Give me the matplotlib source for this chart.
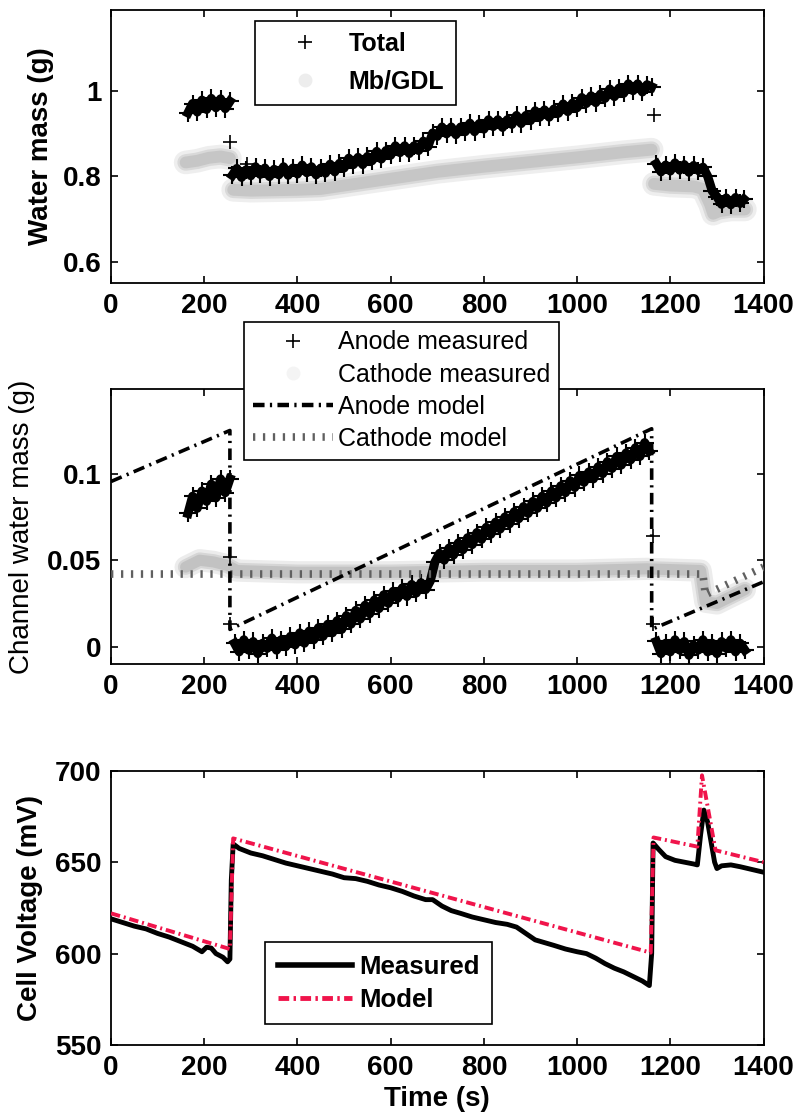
import numpy as np
import matplotlib
matplotlib.use("Agg")
import matplotlib.pyplot as plt
from matplotlib.lines import Line2D

plt.rcParams['font.family'] = ['Liberation Sans', 'DejaVu Sans']
plt.rcParams['axes.linewidth'] = 1.3

nan = np.nan

# ---------------- Panel 1: water mass ----------------
total_t = [165, 175, 185, 195, 205, 215, 225, 235, 245, 255, nan,
           260, 270, 280, 290, 300, 310, 320, 330, 340, 350, 360, 370, 380, 390, 400,
           410, 420, 430, 440, 450, 460, 470, 480, 490, 500, 510, 520, 530, 540, 550,
           560, 570, 580, 590, 600, 610, 620, 630, 640, 650, 660, 670, 680, 690, 700,
           710, 720, 730, 740, 750, 760, 770, 780, 790, 800, 810, 820, 830, 840, 850,
           860, 870, 880, 890, 900, 910, 920, 930, 940, 950, 960, 970, 980, 990, 1000,
           1010, 1020, 1030, 1040, 1050, 1060, 1070, 1080, 1090, 1100, 1110, 1120, 1130,
           1140, 1150, 1160, nan,
           1170, 1180, 1190, 1200, 1210, 1220, 1230, 1240, 1250, 1260, 1270, 1280, 1290,
           1300, 1310, 1320, 1330, 1340, 1350, 1358]
total_g = [0.948, 0.970, 0.950, 0.978, 0.956, 0.982, 0.960, 0.981, 0.958, 0.975, nan,
           0.802, 0.818, 0.797, 0.815, 0.801, 0.822, 0.804, 0.819, 0.799, 0.816, 0.803,
           0.822, 0.802, 0.819, 0.805, 0.826, 0.808, 0.822, 0.803, 0.819, 0.807, 0.828,
           0.810, 0.830, 0.819, 0.842, 0.827, 0.844, 0.827, 0.846, 0.836, 0.858, 0.840,
           0.860, 0.849, 0.871, 0.855, 0.871, 0.853, 0.871, 0.860, 0.882, 0.869, 0.901,
           0.893, 0.915, 0.899, 0.915, 0.897, 0.915, 0.904, 0.924, 0.904, 0.923, 0.910,
           0.932, 0.916, 0.932, 0.914, 0.932, 0.921, 0.942, 0.923, 0.942, 0.930, 0.953,
           0.938, 0.955, 0.938, 0.957, 0.947, 0.969, 0.951, 0.971, 0.960, 0.984, 0.970,
           0.988, 0.972, 0.992, 0.982, 1.004, 0.986, 1.006, 0.994, 1.016, 1.000, 1.016,
           0.997, 1.014, 1.009, nan,
           0.829, 0.810, 0.826, 0.812, 0.831, 0.814, 0.827, 0.809, 0.825, 0.813, 0.821,
           0.800, 0.765, 0.752, 0.734, 0.749, 0.733, 0.750, 0.736, 0.746]
total_jump_t = [255, 292, 1164]
total_jump_g = [0.881, 0.829, 0.943]

mb_t = [160, 185, 210, 235, 255, nan,
        262, 300, 400, 450, 500, 600, 700, 800, 900, 1000, 1100, 1160, nan,
        1165, 1200, 1250, 1270, 1285, 1292, 1305, 1330, 1360]
mb_g = [0.832, 0.836, 0.843, 0.846, 0.842, nan,
        0.768, 0.766, 0.768, 0.770, 0.778, 0.794, 0.810, 0.822, 0.833, 0.844, 0.856, 0.862, nan,
        0.782, 0.778, 0.776, 0.770, 0.735, 0.712, 0.718, 0.722, 0.722]

# ---------------- Panel 2: channel water ----------------
anode_t = [165, 175, 185, 195, 205, 215, 225, 235, 245, 255, nan,
           265, 275, 285, 295, 305, 315, 325, 335, 345, 355, 365, 375, 385, 395, 405,
           415, 425, 435, 445, 455, 465, 475, 485, 495, 505, 515, 525, 535, 545, 555,
           565, 575, 585, 595, 605, 615, 625, 635, 645, 655, 665, 675, 685, 695, 705,
           715, 725, 735, 745, 755, 765, 775, 785, 795, 805, 815, 825, 835, 845, 855,
           865, 875, 885, 895, 905, 915, 925, 935, 945, 955, 965, 975, 985, 995, 1005,
           1015, 1025, 1035, 1045, 1055, 1065, 1075, 1085, 1095, 1105, 1115, 1125, 1135,
           1145, 1155, nan,
           1170, 1180, 1190, 1200, 1210, 1220, 1230, 1240, 1250, 1260, 1270, 1280, 1290,
           1300, 1310, 1320, 1330, 1340, 1350, 1360]
anode_g = [0.077, 0.087, 0.080, 0.090, 0.084, 0.094, 0.086, 0.097, 0.089, 0.097, nan,
           0.002, -0.003, 0.004, -0.002, 0.003, -0.004, 0.002, -0.001, 0.005, -0.002,
           0.004, 0.000, 0.006, 0.001, 0.008, 0.002, 0.009, 0.004, 0.011, 0.006, 0.013,
           0.008, 0.015, 0.010, 0.018, 0.013, 0.021, 0.016, 0.024, 0.019, 0.027, 0.022,
           0.030, 0.025, 0.032, 0.028, 0.034, 0.029, 0.036, 0.031, 0.037, 0.033, 0.038,
           0.049, 0.054, 0.050, 0.057, 0.053, 0.060, 0.056, 0.063, 0.059, 0.066, 0.062,
           0.069, 0.065, 0.072, 0.068, 0.075, 0.071, 0.078, 0.074, 0.081, 0.077, 0.084,
           0.080, 0.087, 0.083, 0.090, 0.086, 0.093, 0.089, 0.096, 0.092, 0.099, 0.095,
           0.101, 0.097, 0.104, 0.100, 0.107, 0.103, 0.110, 0.105, 0.112, 0.108, 0.115,
           0.110, 0.118, 0.113, nan,
           0.003, -0.004, 0.002, -0.003, 0.004, -0.002, 0.003, -0.005, 0.001, -0.002,
           0.004, -0.003, 0.002, -0.004, 0.003, -0.001, 0.004, -0.003, 0.002, -0.002]
anode_jump_t = [256, 256, 1162, 1162]
anode_jump_g = [0.052, 0.013, 0.064, 0.013]

cathode_t = [160, 190, 220, 250, 270, 400, 600, 800, 1000, 1150, 1265, 1275, 1300, 1360]
cathode_g = [0.046, 0.050, 0.049, 0.047, 0.044, 0.043, 0.043, 0.044, 0.044, 0.045,
             0.044, 0.026, 0.025, 0.033]

anode_model_t = [0, 255, 255, 1160, 1160, 1400]
anode_model_g = [0.0955, 0.125, 0.010, 0.126, 0.010, 0.0375]

cathode_model_t = [0, 1270, 1275, 1400]
cathode_model_g = [0.042, 0.042, 0.030, 0.046]

# ---------------- Panel 3: cell voltage ----------------
volt_t = [0, 25, 50, 75, 100, 125, 150, 175, 195, 205, 215, 225, 240, 250, 255, 258,
          262, 275, 300, 325, 350, 375, 400, 425, 450, 475, 500, 525, 550, 575, 600,
          625, 650, 675, 690, 710, 730, 750, 775, 800, 825, 850, 870, 890, 910, 930,
          950, 975, 1000, 1020, 1040, 1060, 1080, 1100, 1120, 1140, 1155, 1160, 1163,
          1175, 1190, 1210, 1230, 1250, 1258, 1265, 1272, 1280, 1295, 1300, 1310, 1330,
          1350, 1375, 1400]
volt_mv = [619, 617, 615, 613.5, 611, 609, 606.5, 604, 601, 603.5, 603, 600, 598,
           595.5, 597, 640, 660, 657.5, 655, 653.5, 651.5, 649.5, 648, 646.5, 645,
           643.5, 641.5, 641, 639.5, 637.5, 636, 634, 631.5, 629.5, 629.5, 626, 623.5,
           622, 620, 618.5, 617, 616, 614.5, 611, 607.5, 606, 604.5, 602.5, 601, 600,
           597.5, 594.5, 592, 590, 587.5, 585, 582.5, 600, 660.5, 657, 653, 651, 650,
           649, 648.5, 665, 678.5, 672, 650, 646.5, 648, 648.5, 647.5, 646, 644.5]

model_t = [0, 255, 262, 1158, 1164, 1258, 1268, 1297, 1400]
model_mv = [622, 602.5, 663, 600.5, 663.5, 658.5, 697.5, 656.5, 650]

time_ticks = [0, 200, 400, 600, 800, 1000, 1200, 1400]

fig = plt.figure(figsize=(7.99, 11.18), dpi=100)
ax1 = fig.add_axes([0.139, 0.7469, 0.8166, 0.2446])
ax2 = fig.add_axes([0.139, 0.4061, 0.8166, 0.2460])
ax3 = fig.add_axes([0.139, 0.0653, 0.8166, 0.2453])


def style_axis(ax):
    ax.set_xlim(0, 1400)
    ax.set_xticks(time_ticks)
    ax.tick_params(direction='in', length=5, width=1.2, top=True, right=True,
                   labelsize=20, pad=7)
    for lab in ax.get_xticklabels() + ax.get_yticklabels():
        lab.set_fontweight('bold')


def soft_band(ax, t, v, core, mid, halo, lw):
    # layered strokes give the band a soft, diffuse edge
    ax.plot(t, v, color=halo, lw=lw * 2.0, solid_capstyle='round', zorder=1)
    ax.plot(t, v, color=mid, lw=lw * 1.4, solid_capstyle='round', zorder=1.05)
    ax.plot(t, v, color=core, lw=lw, solid_capstyle='round', zorder=1.1)


def noisy_band(ax, t, v, jt, jv):
    ax.plot(t, v, color='k', lw=6.5, zorder=2)
    ax.plot(t, v, ls='none', marker='+', ms=13, mew=1.5, color='k', zorder=3)
    ax.plot(jt, jv, ls='none', marker='+', ms=10, mew=1.2, color='k', zorder=3)


# Panel 1
soft_band(ax1, mb_t, mb_g, '#c6c6c6', '#d9d9d9', '#eeeeee', 8.5)
noisy_band(ax1, total_t, total_g, total_jump_t, total_jump_g)
ax1.set_ylim(0.55, 1.19)
ax1.set_yticks([0.6, 0.8, 1.0])
ax1.set_yticklabels(['0.6', '0.8', '1'])
style_axis(ax1)
ax1.set_ylabel('Water mass (g)', fontsize=20, fontweight='bold', va='center')
ax1.yaxis.set_label_coords(-0.107, 0.5)

h1 = [Line2D([], [], ls='none', marker='+', ms=10, mew=1.2, color='k'),
      Line2D([], [], ls='none', marker='o', ms=9, color='#ededed')]
leg1 = fig.legend(h1, ['Total', 'Mb/GDL'], loc='upper left',
                  bbox_to_anchor=(0.3191, 0.9815), borderaxespad=0,
                  prop=dict(size=18, weight='bold'), handlelength=3.1,
                  handletextpad=0.2, labelspacing=0.55, borderpad=0.45,
                  fancybox=False, edgecolor='k', framealpha=1)
leg1.get_frame().set_linewidth(1.2)

# Panel 2
soft_band(ax2, cathode_t, cathode_g, '#c2c2c2', '#d6d6d6', '#ececec', 8)
noisy_band(ax2, anode_t, anode_g, anode_jump_t, anode_jump_g)
hatch_style = dict(color='#606060', lw=5.5, ls=(0, (0.3, 1.0)), dash_capstyle='butt')
ax2.plot(cathode_model_t, cathode_model_g, zorder=4, **hatch_style)
dashdot_k = dict(color='k', lw=2.6, ls=(0, (3.2, 1.5, 0.6, 1.5)))
ax2.plot(anode_model_t, anode_model_g, zorder=5, **dashdot_k)
ax2.set_ylim(-0.01, 0.149)
ax2.set_yticks([0, 0.05, 0.1])
ax2.set_yticklabels(['0', '0.05', '0.1'])
style_axis(ax2)
ax2.set_ylabel('Channel water mass (g)', fontsize=20, va='center')
ax2.yaxis.set_label_coords(-0.136, 0.5)

h2 = [Line2D([], [], ls='none', marker='+', ms=10, mew=1.2, color='k'),
      Line2D([], [], ls='none', marker='o', ms=9, color='#f4f4f4'),
      Line2D([], [], color='k', lw=3.2, ls=(0, (2.6, 1.2, 0.5, 1.2))),
      Line2D([], [], **hatch_style)]
leg2 = fig.legend(h2, ['Anode measured', 'Cathode measured', 'Anode model',
                       'Cathode model'], loc='upper left',
                  bbox_to_anchor=(0.3054, 0.7123), borderaxespad=0,
                  prop=dict(size=18), handlelength=3.2, handletextpad=0.2,
                  labelspacing=0.33, borderpad=0.35, fancybox=False, edgecolor='k',
                  framealpha=1)
leg2.get_frame().set_linewidth(1.2)

# Panel 3
ax3.plot(volt_t, volt_mv, color='k', lw=3.5, zorder=2)
red_style = dict(color='#f0144b', lw=2.8, ls=(0, (2.4, 1.0, 0.5, 1.0)))
ax3.plot(model_t, model_mv, zorder=3, **red_style)
ax3.set_ylim(550, 700)
ax3.set_yticks([550, 600, 650, 700])
style_axis(ax3)
ax3.set_ylabel('Cell Voltage (mV)', fontsize=20, fontweight='bold', va='center')
ax3.yaxis.set_label_coords(-0.124, 0.5)
ax3.set_xlabel('Time (s)', fontsize=20, fontweight='bold', labelpad=4)

h3 = [Line2D([], [], color='k', lw=4),
      Line2D([], [], color='#f0144b', lw=3.5, ls=(0, (2.2, 0.9, 0.5, 0.9)))]
leg3 = fig.legend(h3, ['Measured', 'Model'], loc='upper left',
                  bbox_to_anchor=(0.3317, 0.1577), borderaxespad=0,
                  prop=dict(size=18.5, weight='bold'), handlelength=2.9,
                  handletextpad=0.25, labelspacing=0.35, borderpad=0.5,
                  fancybox=False, edgecolor='k', framealpha=1)
leg3.get_frame().set_linewidth(1.2)

fig.savefig('out.png', dpi=100, facecolor='white')
